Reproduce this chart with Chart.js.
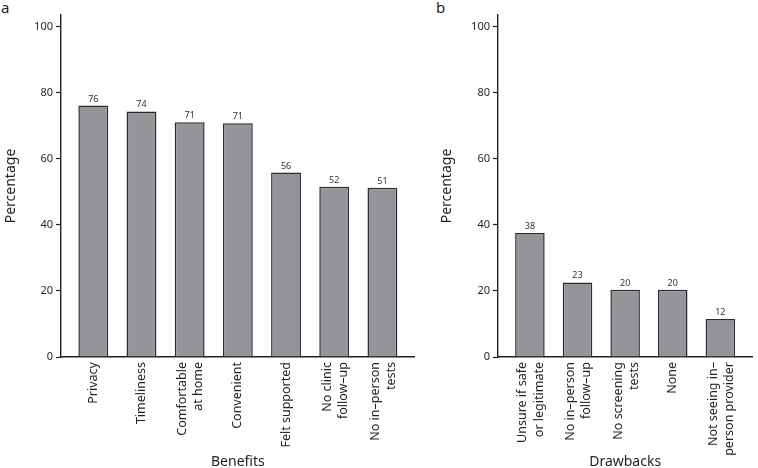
<!DOCTYPE html>
<html>
<head>
<meta charset="utf-8">
<script src="https://cdn.jsdelivr.net/npm/chart.js@4"></script>
<style>
  html, body { margin: 0; padding: 0; background: #fff; }
  body { width: 758px; height: 468px; position: relative; overflow: hidden; font-family: "Noto Sans", sans-serif; }
  .panel { position: absolute; top: 0; }
  .tag { position: absolute; top: -3px; font-size: 15px; color: #231f20; }
</style>
</head>
<body>
<div class="tag" style="left:1px">a</div>
<div class="tag" style="left:436px">b</div>
<div class="panel" style="left:0"><canvas id="chart-a" width="420" height="468"></canvas></div>
<div class="panel" style="left:420px"><canvas id="chart-b" width="338" height="468"></canvas></div>
<script>
  // Panel a: benefits
  const benefitLabels = ["Privacy", "Timeliness", ["Comfortable", "at home"], "Convenient", "Felt supported", ["No clinic", "follow–up"], ["No in–person", "tests"]];
  const benefitValues = [76.2, 74.4, 71.1, 70.8, 55.9, 51.6, 51.3];

  // Panel b: drawbacks
  const drawbackLabels = [["Unsure if safe", "or legitimate"], ["No in–person", "follow–up"], ["No screening", "tests"], "None", ["Not seeing in–", "person provider"]];
  const drawbackValues = [37.6, 22.6, 20.4, 20.4, 11.5];

  const yTicks = [0, 20, 40, 60, 80, 100];

  const INK = "#231f20";
  const FONT = "'Noto Sans', sans-serif";

  // number above each bar
  const valueLabels = {
    id: "valueLabels",
    afterDatasetsDraw(chart) {
      const { ctx } = chart;
      const meta = chart.getDatasetMeta(0);
      ctx.save();
      ctx.font = "9px " + FONT;
      ctx.fillStyle = "#333";
      ctx.textAlign = "center";
      ctx.textBaseline = "bottom";
      meta.data.forEach((bar, i) => {
        const v = chart.data.datasets[0].data[i].y;
        ctx.fillText(String(Math.round(v)), bar.x, bar.y - 2);
      });
      ctx.restore();
    }
  };

  // two-line rotated labels: centre the block on the bar instead of the first line
  const centerMultiline = {
    id: "centerMultiline",
    beforeDraw(chart) {
      const scale = chart.scales.x;
      const items = scale.getLabelItems();
      items.forEach((it) => {
        if (Array.isArray(it.label) && !it._shifted) {
          it.options.translation[0] -= 7;
          it._shifted = true;
        }
      });
    }
  };

  function panelChart(canvasId, labels, values, title, padLeft, yWidth) {
    const ctx = document.getElementById(canvasId);
    return new Chart(ctx, {
      type: "bar",
      data: {
        datasets: [{
          data: values.map((v, i) => ({ x: i, y: v })),
          backgroundColor: "#939598",
          borderColor: "#2b2b2b",
          borderWidth: 1.5,
          barPercentage: 0.62,
          categoryPercentage: 1
        }]
      },
      options: {
        responsive: false,
        animation: false,
        layout: { padding: { left: padLeft, right: 1, top: 15, bottom: 0 } },
        plugins: { legend: { display: false }, tooltip: { enabled: false } },
        scales: {
          x: {
            type: "linear",
            offset: false,
            min: -0.67,
            max: labels.length - 0.33,
            afterBuildTicks: (s) => { s.ticks = labels.map((_, i) => ({ value: i })); },
            afterFit: (s) => { s.height = 111; },
            grid: { drawOnChartArea: false, drawTicks: false },
            border: { display: true, color: INK, width: 1.4 },
            ticks: {
              autoSkip: false,
              minRotation: 90,
              maxRotation: 90,
              padding: 5,
              color: INK,
              font: { family: FONT, size: 12.5, lineHeight: 1.3 },
              callback: (v) => labels[v]
            },
            title: {
              display: true,
              text: title,
              color: INK,
              padding: 0,
              font: { family: FONT, size: 14, lineHeight: 0.9 }
            }
          },
          y: {
            min: 0,
            max: 103.6,
            afterBuildTicks: (s) => { s.ticks = yTicks.map((v) => ({ value: v })); },
            afterFit: (s) => { s.width = yWidth; },
            grid: { drawOnChartArea: false, drawTicks: true, tickLength: 5, color: INK, tickWidth: 1.2 },
            border: { display: true, color: INK, width: 1.4 },
            ticks: { padding: 3, color: INK, font: { family: FONT, size: 11 } },
            title: {
              display: true,
              text: "Percentage",
              color: INK,
              padding: 0,
              font: { family: FONT, size: 14, lineHeight: 1.2 }
            }
          }
        }
      },
      plugins: [valueLabels, centerMultiline]
    });
  }

  panelChart("chart-a", benefitLabels, benefitValues, "Benefits", 3, 58);
  panelChart("chart-b", drawbackLabels, drawbackValues, "Drawbacks", 19, 59);
</script>
</body>
</html>
